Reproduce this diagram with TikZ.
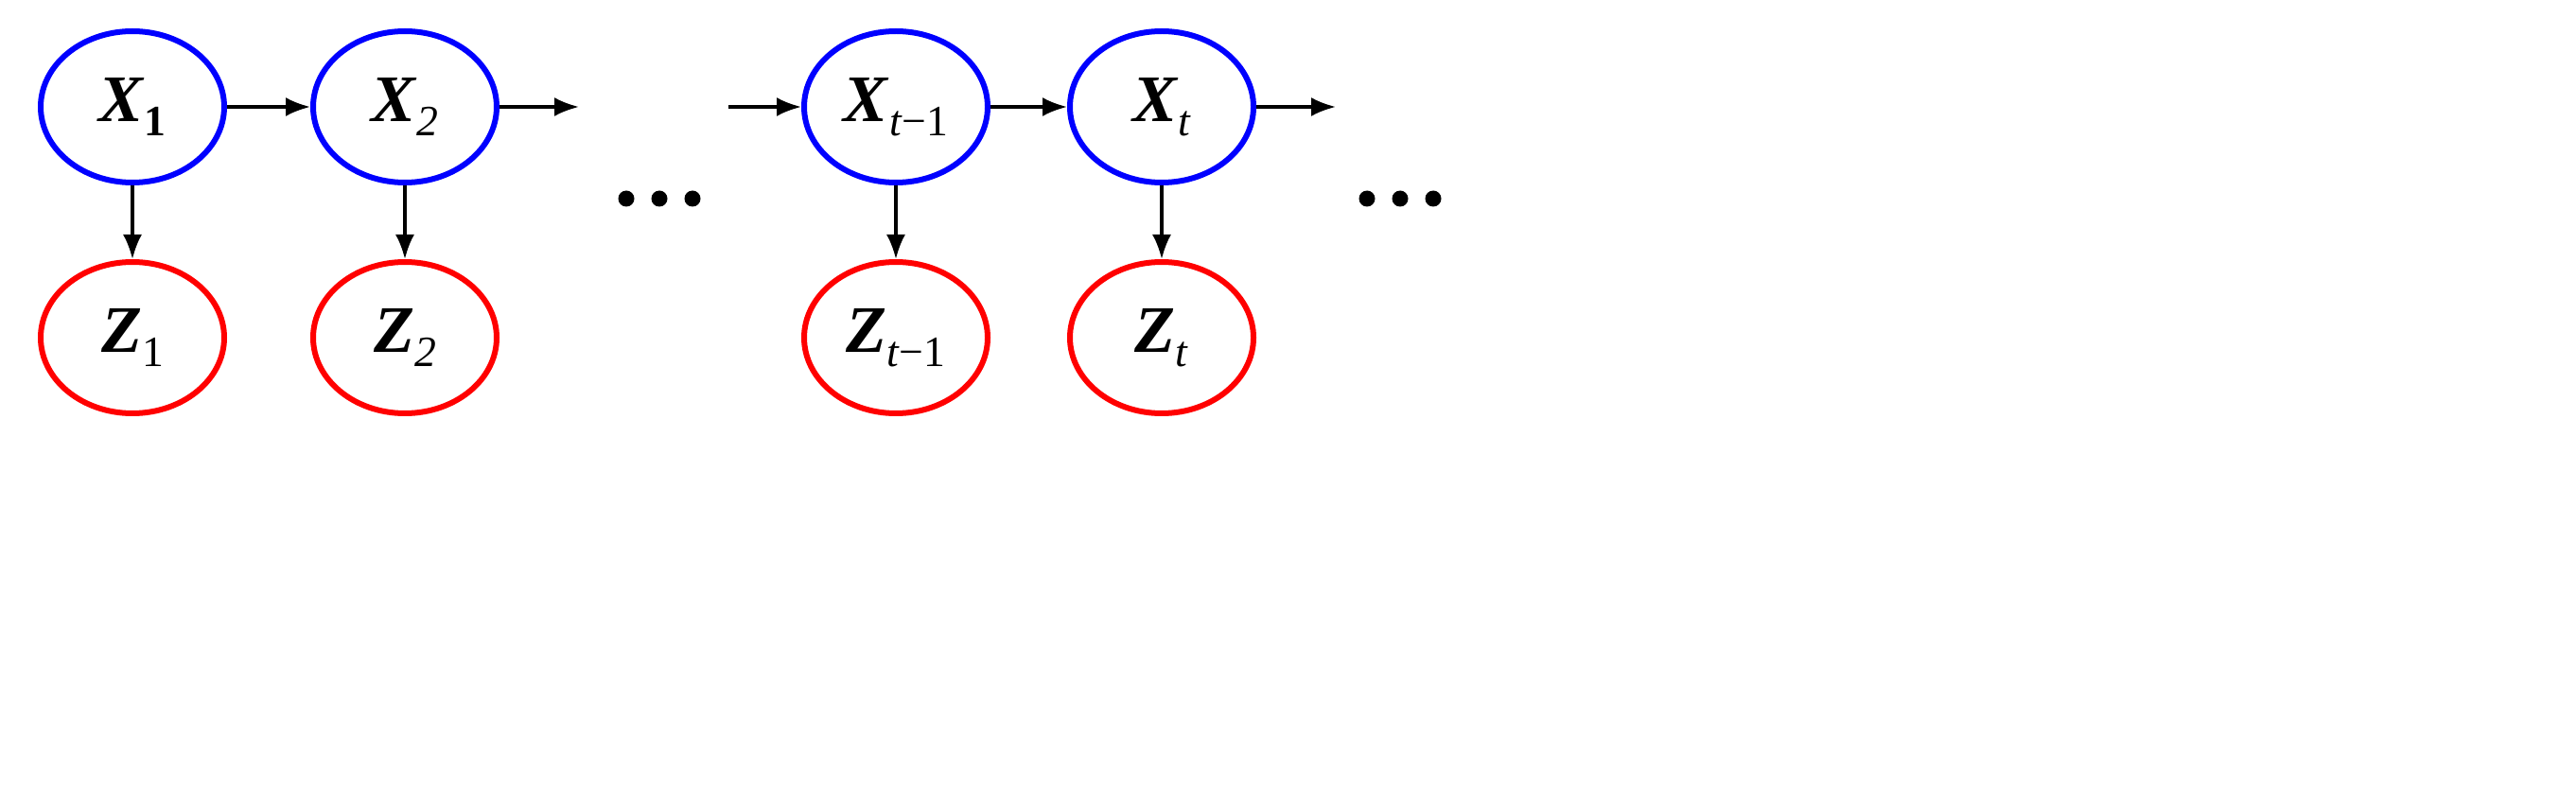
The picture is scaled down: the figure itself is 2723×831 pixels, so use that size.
\documentclass[tikz,border=0pt]{standalone}
\usepackage{fontspec}
\setmainfont{Liberation Serif}
\usetikzlibrary{arrows.meta,shapes.geometric}
\newcommand\mysub[1]{\raisebox{-0.45ex}{\fontsize{13}{13}\selectfont #1}}
\begin{document}
\begin{tikzpicture}[x=0.1mm,y=-0.1mm,
  xn/.style={ellipse,draw=blue,line width=0.6mm,minimum width=19.4mm,minimum height=16mm,inner sep=0pt,font=\fontsize{20}{24}\selectfont},
  zn/.style={xn,draw=red},
  ar/.style={line width=0.32mm,-{Latex[length=2.6mm,width=2mm]}},
  dot/.style={circle,fill=black,inner sep=0pt,minimum size=1.7mm}]
\useasboundingbox (0,0) rectangle (2723,831);
\node[xn] (x1) at (140,113) {\textbf{\textit{X}}\mysub{\textbf{1}}};
\node[xn] (x2) at (428,113) {\textbf{\textit{X}}\mysub{\textit{2}}};
\node[xn] (x3) at (947,113) {\textbf{\textit{X}}\mysub{\textit{t}−1}};
\node[xn] (x4) at (1228,113) {\textbf{\textit{X}}\mysub{\textit{t}}};
\node[zn] (z1) at (140,357) {\textbf{\textit{Z}}\mysub{1}};
\node[zn] (z2) at (428,357) {\textbf{\textit{Z}}\mysub{\textit{2}}};
\node[zn] (z3) at (947,357) {\textbf{\textit{Z}}\mysub{\textit{t}−1}};
\node[zn] (z4) at (1228,357) {\textbf{\textit{Z}}\mysub{\textit{t}}};
\coordinate (e2) at (612,113);
\coordinate (s3) at (770,113);
\coordinate (e4) at (1412,113);
\draw[ar] (x1) -- (x2);
\draw[ar] (x2.east) -- (e2);
\draw[ar] (s3) -- (x3.west);
\draw[ar] (x3) -- (x4);
\draw[ar] (x4.east) -- (e4);
\foreach \i in {1,...,4} \draw[ar] (x\i) -- (z\i);
\foreach \x in {662,697,732,1445,1480,1515} \node[dot] (d\x) at (\x,210) {};
\end{tikzpicture}
\end{document}
